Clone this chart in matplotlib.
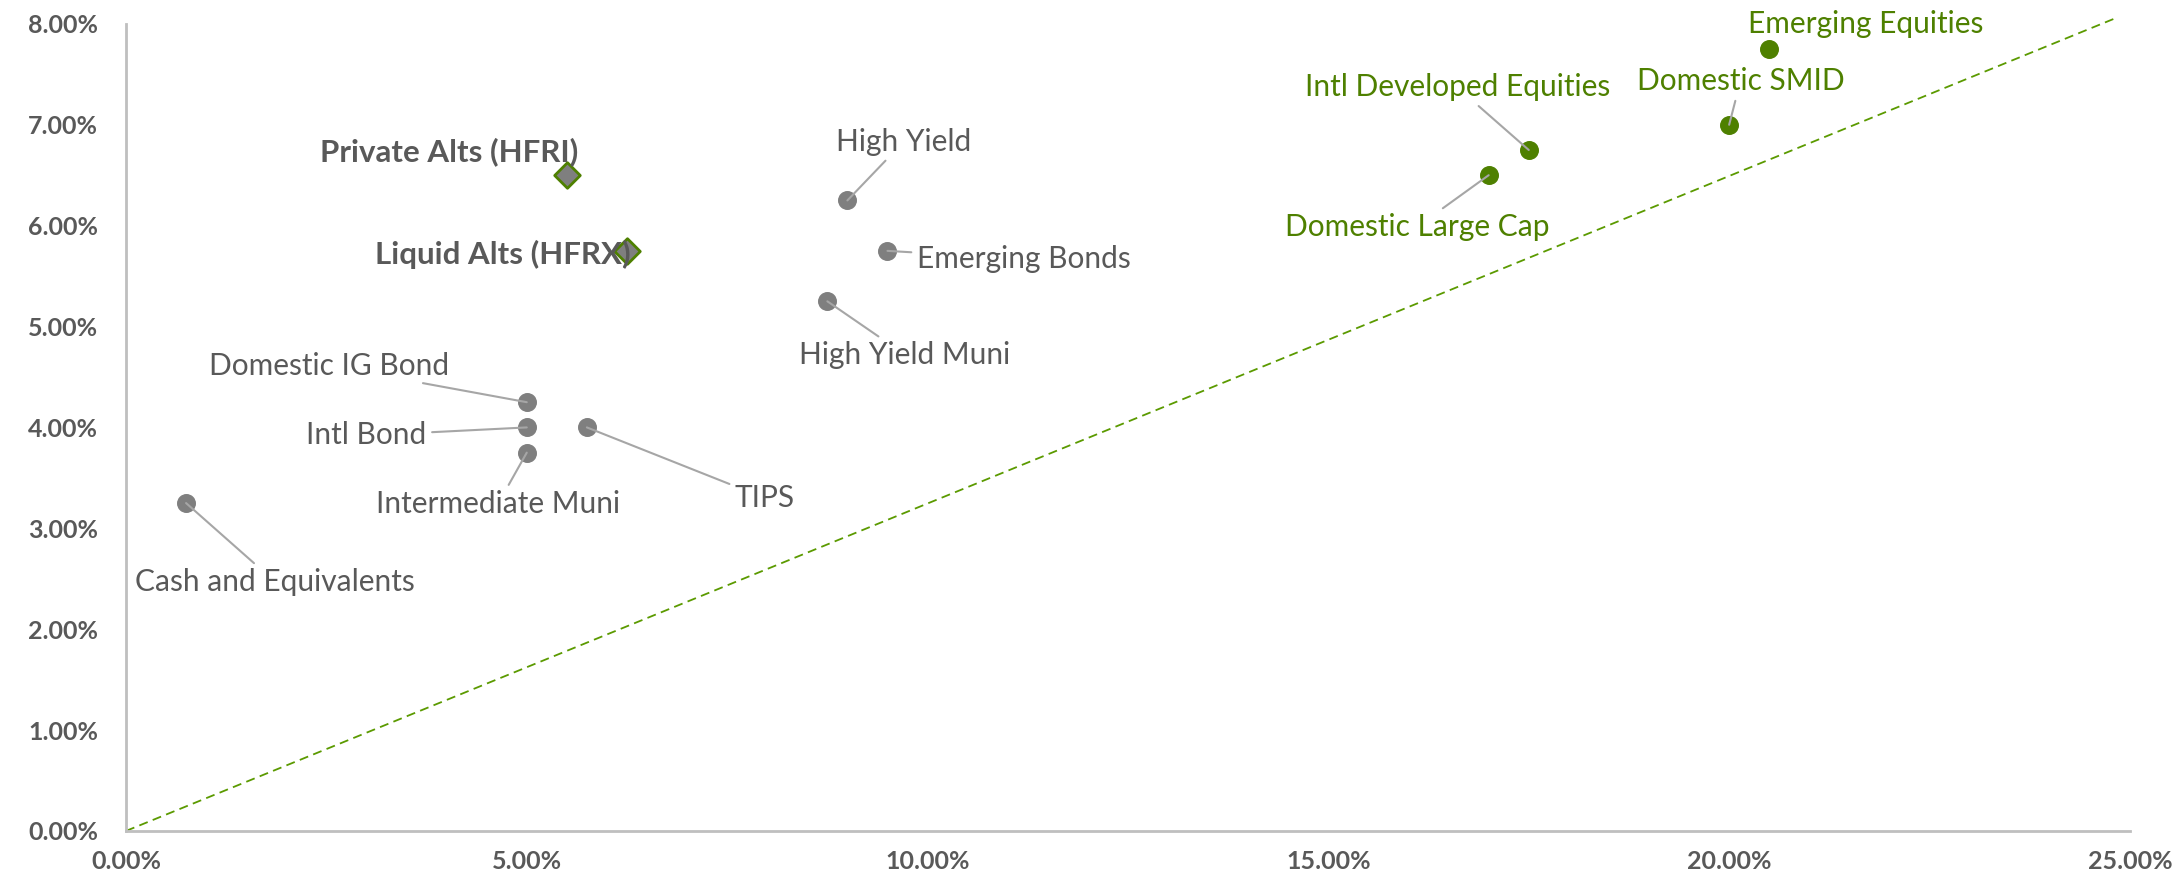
import matplotlib
matplotlib.use('Agg')
import matplotlib.pyplot as plt
from matplotlib.ticker import FuncFormatter

plt.rcParams['font.family'] = ['Lato', 'DejaVu Sans']

# datos: riesgo (x, %) y retorno (y, %)
bond_names = ['Cash and Equivalents', 'Domestic IG Bond', 'Intl Bond', 'Intermediate Muni',
              'TIPS', 'High Yield', 'Emerging Bonds', 'High Yield Muni']
bond_risk = [0.75, 5.0, 5.0, 5.0, 5.75, 9.0, 9.5, 8.75]
bond_ret = [3.25, 4.25, 4.0, 3.75, 4.0, 6.25, 5.75, 5.25]

alt_names = ['Private Alts (HFRI)', 'Liquid Alts (HFRX)']
alt_risk = [5.5, 6.25]
alt_ret = [6.5, 5.75]

eq_names = ['Domestic Large Cap', 'Intl Developed Equities', 'Domestic SMID', 'Emerging Equities']
eq_risk = [17.0, 17.5, 20.0, 20.5]
eq_ret = [6.5, 6.75, 7.0, 7.75]

line_x = [0, 24.8]
line_y = [0, 8.05]

x_ticks = [0, 5, 10, 15, 20, 25]
y_ticks = [0, 1, 2, 3, 4, 5, 6, 7, 8]

# posiciones de etiquetas (centro del texto, en unidades de datos) y si llevan linea guia
label_pos = {
    'Cash and Equivalents': (1.86, 2.47, True),
    'Domestic IG Bond': (2.53, 4.61, True),
    'Intl Bond': (3.0, 3.92, True),
    'Intermediate Muni': (4.64, 3.24, True),
    'TIPS': (7.97, 3.30, True),
    'High Yield': (9.70, 6.83, True),
    'Emerging Bonds': (11.20, 5.67, True),
    'High Yield Muni': (9.72, 4.72, True),
    'Private Alts (HFRI)': (4.03, 6.73, False),
    'Liquid Alts (HFRX)': (4.70, 5.71, False),
    'Domestic Large Cap': (16.11, 5.99, True),
    'Intl Developed Equities': (16.61, 7.37, True),
    'Domestic SMID': (20.14, 7.43, True),
    'Emerging Equities': (21.70, 8.0, False),
}

gris = '#7f7f7f'
texto = '#595959'
verde = '#4e8000'

fig = plt.figure(figsize=(21.83, 8.84), dpi=100)
ax = fig.add_axes([0.0577, 0.060, 0.918, 0.913])

ax.plot(line_x, line_y, color='#5b9a00', lw=1.3, ls=(0, (5, 3)), zorder=1, clip_on=False)
ax.scatter(bond_risk, bond_ret, s=160, color=gris, zorder=3)
ax.scatter(eq_risk, eq_ret, s=160, color=verde, zorder=3)
ax.scatter(alt_risk, alt_ret, s=170, marker='D', color=gris, edgecolor=verde, linewidth=2, zorder=3)

def etiquetar(nombres, xs, ys, color, peso, tam):
    for n, x, y in zip(nombres, xs, ys):
        tx, ty, guia = label_pos[n]
        props = dict(arrowstyle='-', color='#a6a6a6', lw=1.5, shrinkA=2, shrinkB=0) if guia else None
        ax.annotate(n, xy=(x, y), xytext=(tx, ty), ha='center', va='center',
                    fontsize=tam, color=color, fontweight=peso, arrowprops=props, zorder=4)

etiquetar(bond_names, bond_risk, bond_ret, texto, 'normal', 21.5)
etiquetar(alt_names, alt_risk, alt_ret, texto, 'bold', 22.5)
etiquetar(eq_names, eq_risk, eq_ret, verde, 'normal', 21.5)

ax.set_xlim(0, 25)
ax.set_ylim(0, 8)
ax.set_xticks(x_ticks)
ax.set_yticks(y_ticks)
fmt = FuncFormatter(lambda v, p: '%.2f%%' % v)
ax.xaxis.set_major_formatter(fmt)
ax.yaxis.set_major_formatter(fmt)
for lab in ax.get_xticklabels() + ax.get_yticklabels():
    lab.set_fontweight('bold')
ax.tick_params(axis='both', length=0, labelsize=18, colors=texto)
ax.tick_params(axis='y', pad=20)
ax.tick_params(axis='x', pad=14)
for s in ['top', 'right']:
    ax.spines[s].set_visible(False)
for s in ['left', 'bottom']:
    ax.spines[s].set_color('#bfbfbf')
    ax.spines[s].set_linewidth(2)

plt.savefig('out.png', dpi=100)
